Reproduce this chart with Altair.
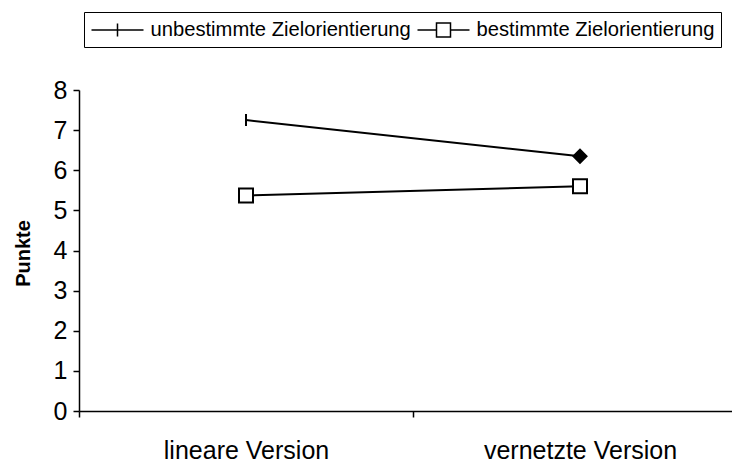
import altair as alt
import pandas as pd

versions = ["lineare Version", "vernetzte Version"]
series = ["unbestimmte Zielorientierung", "bestimmte Zielorientierung"]
unbestimmt = [7.25, 6.35]
bestimmt = [5.37, 5.6]
markers_unbestimmt = ["tick", "diamond"]
markers_bestimmt = ["square", "square"]

rows = []
for v, val, m in zip(versions, unbestimmt, markers_unbestimmt):
    rows.append({"Version": v, "Punkte": val, "Serie": series[0], "Marker": m})
for v, val, m in zip(versions, bestimmt, markers_bestimmt):
    rows.append({"Version": v, "Punkte": val, "Serie": series[1], "Marker": m})
df = pd.DataFrame(rows)

FONT = "Liberation Sans"

x = alt.X(
    "Version:N",
    sort=versions,
    scale=alt.Scale(range=[0, 668], paddingInner=0, paddingOuter=0),
    axis=alt.Axis(
        title=None, labelAngle=0, tickBand="extent", tickSize=6, labelLimit=0,
        labelFontSize=25, labelPadding=21, labelFont=FONT, labelColor="black",
        domainColor="black", tickColor="black", domainWidth=1.5, tickWidth=1.5,
    ),
)
y = alt.Y(
    "Punkte:Q",
    scale=alt.Scale(domain=[0, 8], nice=False),
    axis=alt.Axis(
        values=list(range(9)), grid=False, tickSize=6, labelPadding=6,
        labelFontSize=25, labelFont=FONT, labelColor="black",
        domainColor="black", tickColor="black", domainWidth=1.5, tickWidth=1.5,
        title="Punkte", titleFont=FONT, titleFontSize=20, titleFontWeight="bold",
        titleColor="black", titleAngle=270, titleX=-56, titleY=163,
        titleAlign="center", titleBaseline="middle",
    ),
)

base = alt.Chart(df)

lines = base.mark_line(color="black", strokeWidth=2).encode(
    x=x, y=y, detail="Serie:N"
)

points = base.mark_point(stroke="black", strokeWidth=2, opacity=1).encode(
    x=x, y=y,
    shape=alt.Shape("Marker:N", scale=alt.Scale(domain=["tick", "diamond", "square"],
                                                range=["M0,-1V1", "diamond", "square"]),
                    legend=None),
    fill=alt.Fill("Marker:N", scale=alt.Scale(domain=["tick", "diamond", "square"],
                                              range=["black", "black", "white"]),
                  legend=None),
    size=alt.Size("Marker:N", scale=alt.Scale(domain=["tick", "diamond", "square"],
                                              range=[144, 196, 169]),
                  legend=None),
)

# legend glyphs: line with tick / line with open square (unit = 10 px, centre at 10 px)
path1 = "M-1,0H4.2M1.6,-0.65V0.65"
path2 = "M-1,0H0.9M2.3,0H4.2M0.9,-0.7H2.3V0.7H0.9Z"

legend_layer = base.mark_point(opacity=0, stroke="black").encode(
    x=x, y=y,
    shape=alt.Shape(
        "Serie:N",
        scale=alt.Scale(domain=series, range=[path1, path2]),
        legend=alt.Legend(
            title=None, orient="none", legendX=5, legendY=-78, direction="horizontal",
            labelFont=FONT, labelFontSize=20.2, labelColor="black", labelLimit=0,
            symbolSize=400, symbolStrokeColor="black", symbolFillColor="white",
            symbolStrokeWidth=1.5, symbolOpacity=1, labelOffset=38, columnPadding=3,
            strokeColor="black", padding=6.5, cornerRadius=0,
        ),
    ),
)

chart = (
    alt.layer(lines, points, legend_layer)
    .resolve_scale(shape="independent", fill="independent", size="independent")
    .properties(
        width=653, height=321,
        autosize=alt.AutoSizeParams(type="none"),
        padding={"left": 71, "top": 82, "right": 0, "bottom": 52},
    )
    .configure_view(stroke=None)
)

chart.save("out.html", embed_options={"renderer": "svg", "actions": False})
